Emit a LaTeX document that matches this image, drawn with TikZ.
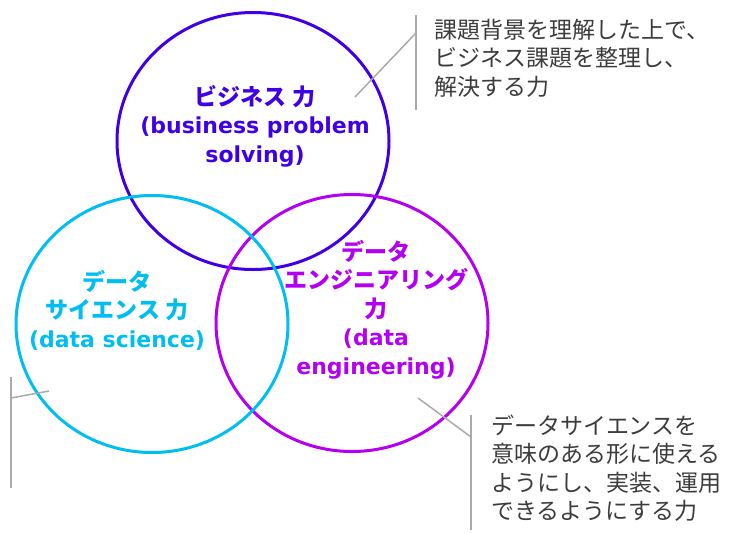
\documentclass[tikz,border=0pt]{standalone}
\usepackage{fontspec}
\usetikzlibrary{shapes.geometric}
\newfontfamily\jpfont{Noto Sans CJK JP}
\newfontfamily\latfont{DejaVu Sans}
\definecolor{bizcol}{RGB}{64,0,230}
\definecolor{dscol}{RGB}{0,190,240}
\definecolor{decol}{RGB}{180,0,240}
\definecolor{calloutcol}{RGB}{170,170,170}
\definecolor{notecol}{RGB}{60,60,60}
\newcommand{\Lt}[1]{{\latfont\bfseries\fontsize{22}{28.5}\selectfont #1}}
\tikzset{
  ring/.style={ellipse, draw, line width=3pt, minimum width=272pt, minimum height=257pt, inner sep=0pt},
  lbl/.style={align=center, inner sep=0pt, font=\jpfont\bfseries\fontsize{23}{28.5}\selectfont},
  note/.style={align=left, anchor=west, inner sep=0pt, text=notecol, font=\jpfont\fontsize{23}{28.5}\selectfont},
  leader/.style={draw=calloutcol, line width=1.5pt}
}
\begin{document}
\begin{tikzpicture}[x=1pt,y=-1pt]
\useasboundingbox (0,0) rectangle (730,533);
\node[ring, draw=bizcol] (biz) at (253,141) {};
\node[ring, draw=decol] (de) at (352,323) {};
\node[ring, draw=dscol] (ds) at (152,324) {};

\node[lbl, text=bizcol] (bizl) at (255,126) {ビジネス 力\\\Lt{(business problem}\\\Lt{solving)}};
\node[lbl, text=dscol] (dsl) at (117,310) {データ\\サイエンス 力\\\Lt{(data science)}};
\node[lbl, text=decol] (del) at (376,309.5) {データ\\エンジニアリング\\力\\\Lt{(data}\\\Lt{engineering)}};

\node[note] (n1) at (434,58) {課題背景を理解した上で、\\ビジネス課題を整理し、\\解決する力};
\node[note] (n2) at (491,468) {データサイエンスを\\意味のある形に使える\\ようにし、実装、運用\\できるようにする力};

% leaders
\coordinate (t1) at (416,15);
\coordinate (t2) at (416,110);
\coordinate (t3) at (416,33);
\coordinate (t4) at (355,97);
\draw[leader] (t1) -- (t2);
\draw[leader] (t3) -- (t4);

\coordinate (b1) at (471,415);
\coordinate (b2) at (471,530);
\coordinate (b3) at (471,437);
\coordinate (b4) at (418,398);
\draw[leader] (b1) -- (b2);
\draw[leader] (b3) -- (b4);

\coordinate (l1) at (11,377);
\coordinate (l2) at (11,488);
\coordinate (l3) at (11,398);
\coordinate (l4) at (49,391);
\draw[leader] (l1) -- (l2);
\draw[leader] (l3) -- (l4);
\end{tikzpicture}
\end{document}
